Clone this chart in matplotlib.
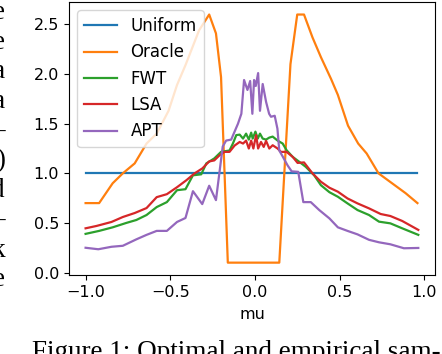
import matplotlib
matplotlib.use("Agg")
import matplotlib.pyplot as plt

# Uniform
uni_x = [-1.0, 0.96]
uni_y = [1.0, 1.0]

# Oracle
ora_x = [-1.0, -0.92, -0.84, -0.78, -0.71, -0.64, -0.58, -0.51, -0.46, -0.41, -0.33, -0.27, -0.23, -0.20,
         -0.16, 0.144, 0.21, 0.25, 0.29, 0.34, 0.39, 0.45, 0.49, 0.55, 0.61, 0.66, 0.73, 0.81, 0.89, 0.96]
ora_y = [0.70, 0.70, 0.90, 1.0, 1.10, 1.30, 1.40, 1.63, 1.89, 2.09, 2.44, 2.60, 2.41, 1.97,
         0.10, 0.10, 2.10, 2.60, 2.60, 2.37, 2.17, 1.95, 1.79, 1.48, 1.30, 1.20, 1.0, 0.90, 0.80, 0.70]

# FWT
fwt_x = [-1.0, -0.92, -0.84, -0.76, -0.70, -0.64, -0.58, -0.52, -0.46, -0.41, -0.366, -0.317, -0.287, -0.24,
         -0.20, -0.15, -0.13, -0.11, -0.09, -0.07, -0.052, -0.036, -0.022, -0.013, 0.003, 0.017, 0.03, 0.046,
         0.066, 0.085, 0.105, 0.134, 0.164, 0.187, 0.223, 0.262, 0.30, 0.35, 0.39, 0.44, 0.49, 0.547, 0.606,
         0.674, 0.733, 0.80, 0.87, 0.965]
fwt_y = [0.39, 0.42, 0.456, 0.50, 0.53, 0.58, 0.66, 0.71, 0.83, 0.84, 0.98, 0.99, 1.10, 1.15,
         1.216, 1.23, 1.30, 1.385, 1.39, 1.35, 1.40, 1.34, 1.41, 1.35, 1.42, 1.35, 1.40, 1.35,
         1.34, 1.36, 1.37, 1.33, 1.30, 1.233, 1.166, 1.116, 1.066, 0.98, 0.88, 0.81, 0.764, 0.697, 0.63,
         0.58, 0.513, 0.496, 0.446, 0.38]

# LSA
lsa_x = [-1.0, -0.935, -0.847, -0.78, -0.71, -0.64, -0.58, -0.52, -0.46, -0.405, -0.356, -0.31, -0.27, -0.24,
         -0.21, -0.18, -0.15, -0.12, -0.09, -0.07, -0.052, -0.036, -0.022, -0.009, 0.007, 0.019, 0.036, 0.052,
         0.066, 0.085, 0.105, 0.134, 0.154, 0.187, 0.223, 0.252, 0.29, 0.34, 0.39, 0.44, 0.49, 0.547, 0.606,
         0.674, 0.743, 0.80, 0.87, 0.965]
lsa_y = [0.446, 0.47, 0.51, 0.56, 0.60, 0.65, 0.76, 0.79, 0.86, 0.93, 1.0, 1.05, 1.12, 1.13,
         1.18, 1.216, 1.216, 1.28, 1.316, 1.30, 1.33, 1.25, 1.33, 1.25, 1.385, 1.25, 1.316, 1.266,
         1.327, 1.25, 1.283, 1.25, 1.216, 1.216, 1.166, 1.105, 1.11, 1.0, 0.915, 0.855, 0.815, 0.747, 0.697,
         0.647, 0.59, 0.57, 0.52, 0.43]

# APT
apt_x = [-1.0, -0.925, -0.847, -0.78, -0.70, -0.64, -0.58, -0.52, -0.46, -0.41, -0.366, -0.311, -0.27, -0.23,
         -0.19, -0.17, -0.14, -0.12, -0.10, -0.08, -0.064, -0.044, -0.028, -0.015, -0.005, 0.005, 0.019, 0.03,
         0.046, 0.066, 0.084, 0.095, 0.117, 0.133, 0.144, 0.164, 0.193, 0.217, 0.256, 0.286, 0.33, 0.38, 0.44,
         0.49, 0.547, 0.606, 0.674, 0.733, 0.80, 0.88, 0.965]
apt_y = [0.25, 0.235, 0.26, 0.27, 0.335, 0.38, 0.42, 0.42, 0.51, 0.55, 0.82, 0.69, 0.875, 0.73,
         1.27, 1.33, 1.34, 1.42, 1.50, 1.60, 1.94, 1.84, 1.93, 1.60, 1.94, 1.88, 2.01, 1.63,
         1.90, 1.72, 1.60, 1.57, 1.58, 1.45, 1.23, 1.17, 1.08, 1.02, 1.015, 0.71, 0.71, 0.63, 0.546,
         0.456, 0.42, 0.385, 0.33, 0.305, 0.285, 0.245, 0.248]

# cut-off letters of the neighbouring text column (the page crop cuts them in the original too)
side_chars = ["e", "e", "a", "a", "\u2013", ")", "d", "\u2013", "k", "e"]
caption = "Figure 1: Optimal and empirical sam-"

fs = 11.5
fig = plt.figure(figsize=(4.42, 3.54), dpi=100)
ax = fig.add_axes([0.156, 0.223, 0.828, 0.771])

ax.plot(uni_x, uni_y, label="Uniform", lw=1.6)
ax.plot(ora_x, ora_y, label="Oracle", lw=1.6)
ax.plot(fwt_x, fwt_y, label="FWT", lw=1.6)
ax.plot(lsa_x, lsa_y, label="LSA", lw=1.6)
ax.plot(apt_x, apt_y, label="APT", lw=1.6)

ax.set_xticks([-1.0, -0.5, 0.0, 0.5, 1.0])
ax.set_yticks([0.0, 0.5, 1.0, 1.5, 2.0, 2.5])
ax.tick_params(labelsize=fs)
ax.set_xlabel("mu", fontsize=fs, labelpad=5.5)
ax.legend(loc="upper left", fontsize=12)

for i, ch in enumerate(side_chars):
    fig.text(5 / 442, 1 - (19 + i * 29.7) / 354, ch, ha="right", va="baseline",
             fontfamily="Liberation Serif", fontsize=19.5)

fig.text(32 / 442, 1 - 359 / 354, caption, ha="left", va="baseline",
         fontfamily="Liberation Serif", fontsize=19.5)

fig.savefig("out.png", dpi=100)
